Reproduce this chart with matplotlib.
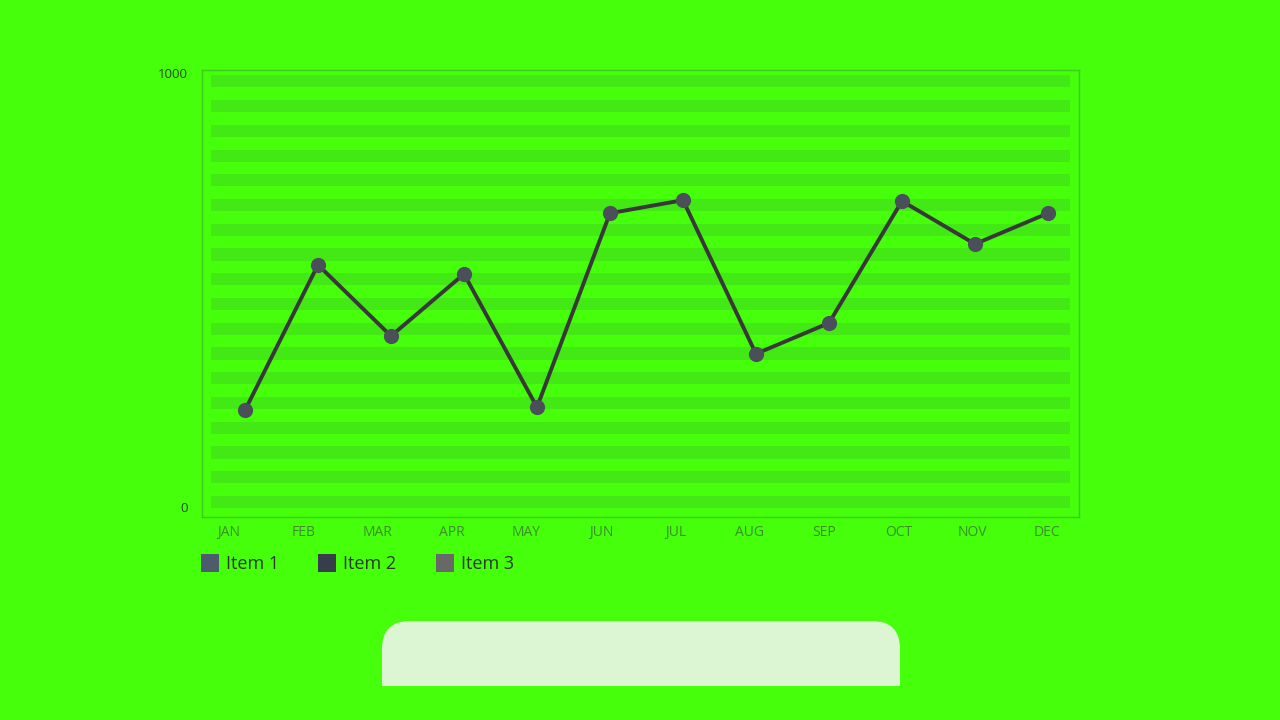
import matplotlib.pyplot as plt
import numpy as np
from matplotlib.patches import FancyBboxPatch, Rectangle

plt.rcParams['font.family'] = ['Open Sans', 'DejaVu Sans']

months = ['JAN', 'FEB', 'MAR', 'APR', 'MAY', 'JUN', 'JUL', 'AUG', 'SEP', 'OCT', 'NOV', 'DEC']
values = [223, 558, 394, 537, 230, 677, 707, 353, 424, 705, 606, 677]
legend_labels = ['Item 1', 'Item 2', 'Item 3']
legend_colors = ['#4e5b6e', '#373d4a', '#686868']

bg = '#45ff0b'
stripe = '#43e914'

fig = plt.figure(figsize=(12.8, 7.2), dpi=100)
fig.patch.set_facecolor(bg)

ax = fig.add_axes([202 / 1280, 1 - 517 / 720, 877 / 1280, 447 / 720])
ax.set_facecolor(bg)
x = np.arange(len(months))
ax.set_xlim(-0.589, 11.425)
ax.set_ylim(-23, 1007)

# background stripes
for k in range(18):
    y0 = -2.3 + k * 57.0
    ax.axhspan(y0, y0 + 28, xmin=0.0103, xmax=0.9897, color=stripe, lw=0, zorder=0)

ax.plot(x, values, color='#383838', lw=2.8, zorder=3)
ax.scatter(x, values, s=120, color='#4b4f5a', zorder=4, lw=0)

for s in ax.spines.values():
    s.set_color('#3ccd1c')
    s.set_linewidth(1)

ax.set_yticks([0, 1000])
ax.set_yticklabels(['0', '1000'], fontsize=9.5, color='#2c4a24')
ax.set_xticks(x - 0.219 + 0.019 * x)
ax.set_xticklabels(months, fontsize=10, color='#3a8f27')
ax.tick_params(length=0, pad=6)
ax.tick_params(axis='y', pad=10)

# overlay in pixel coordinates for legend and bottom panel
ov = fig.add_axes([0, 0, 1, 1])
ov.set_xlim(0, 1280)
ov.set_ylim(720, 0)
ov.axis('off')

lx = [201, 318, 436]
for xi, lab, col in zip(lx, legend_labels, legend_colors):
    ov.add_patch(Rectangle((xi, 554), 18, 18, color=col, lw=0))
    ov.text(xi + 25, 564, lab, fontsize=13, color='#2b3a2b', va='center', ha='left')

ov.add_patch(FancyBboxPatch((382, 621), 518, 65, boxstyle='round,pad=0,rounding_size=28',
                            color='#dcf6d4', lw=0))
ov.add_patch(Rectangle((382, 655), 518, 31, color='#dcf6d4', lw=0))

fig.savefig('out.png', dpi=100, facecolor=bg)
